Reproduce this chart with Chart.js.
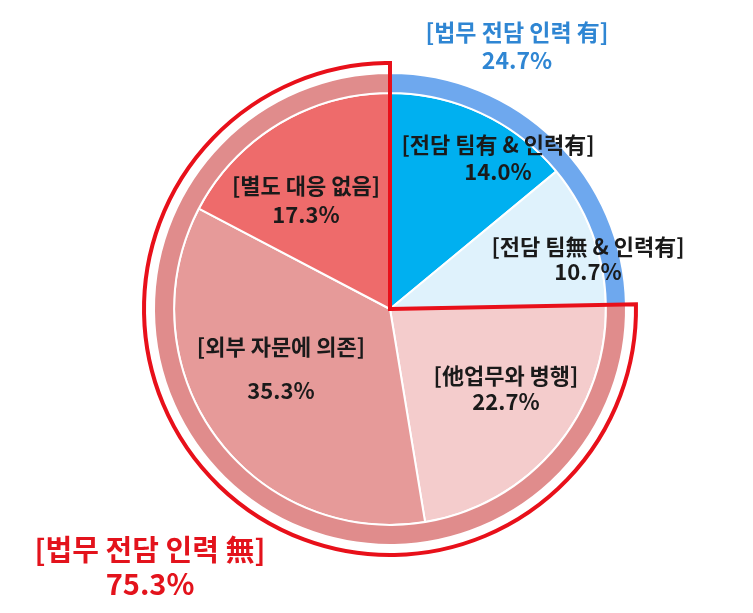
<!DOCTYPE html>
<html>
<head>
<meta charset="utf-8">
<script src="https://cdn.jsdelivr.net/npm/chart.js@4"></script>
<style>
  html, body { margin: 0; padding: 0; background: #fff; }
  #wrap { width: 753px; height: 613px; }
</style>
</head>
<body>
<div id="wrap"><canvas id="chartLegal" width="753" height="613"></canvas></div>
<script>
// 세부 응답 (안쪽 원)
const innerLabels = ['[전담 팀有 & 인력有]', '[전담 팀無 & 인력有]', '[他업무와 병행]', '[외부 자문에 의존]', '[별도 대응 없음]'];
const innerValues = [14.0, 10.7, 22.7, 35.3, 17.3];
const innerColors = ['#00B0F0', '#DFF2FC', '#F4CCCC', '#E69A99', '#EE6B6B'];

// 법무 전담 인력 유무 (바깥 링)
const outerLabels = ['[법무 전담 인력 有]', '[법무 전담 인력 無]'];
const outerValues = [24.7, 75.3];
const outerColors = ['#6EA8EE', '#E08C8C'];

// 라벨 위치 (px)
const innerLabelPos = [[498, 145, 172], [588, 247, 272], [506, 376, 402], [281, 347, 391], [306, 186, 215]];
const outerLabelPos = [[517, 32, 60, '#2F86D3', 23], [150, 550, 584, '#E3131C', 29]];

const fontFamily = '"Noto Sans CJK KR", "Noto Sans", sans-serif';

// 無 부분을 빨간 테두리로 감싸기
const outlinePlugin = {
  id: 'outline',
  afterDatasetsDraw(chart) {
    const arc = chart.getDatasetMeta(0).data[1];
    const ctx = chart.ctx;
    ctx.save();
    ctx.beginPath();
    ctx.moveTo(arc.x, arc.y);
    ctx.arc(arc.x, arc.y, arc.outerRadius + 10, arc.startAngle, arc.endAngle);
    ctx.closePath();
    ctx.lineWidth = 4;
    ctx.lineJoin = 'miter';
    ctx.strokeStyle = '#E8101A';
    ctx.stroke();
    ctx.restore();
  }
};

const labelPlugin = {
  id: 'labels',
  afterDraw(chart) {
    const ctx = chart.ctx;
    ctx.save();
    ctx.textAlign = 'center';
    ctx.textBaseline = 'middle';
    innerLabels.forEach((lbl, i) => {
      const p = innerLabelPos[i];
      ctx.fillStyle = '#1A1A1A';
      ctx.font = 'bold 22px ' + fontFamily;
      ctx.fillText(lbl, p[0], p[1]);
      ctx.fillText(innerValues[i].toFixed(1) + '%', p[0], p[2]);
    });
    outerLabels.forEach((lbl, i) => {
      const p = outerLabelPos[i];
      ctx.fillStyle = p[3];
      ctx.font = 'bold ' + p[4] + 'px ' + fontFamily;
      ctx.fillText(lbl, p[0], p[1]);
      ctx.fillText(outerValues[i].toFixed(1) + '%', p[0], p[2]);
    });
    ctx.restore();
  }
};

new Chart(document.getElementById('chartLegal'), {
  type: 'doughnut',
  data: {
    labels: innerLabels,
    datasets: [
      {
        label: '법무 전담 인력',
        data: outerValues,
        backgroundColor: outerColors,
        borderColor: '#FFFFFF',
        borderWidth: 2,
        weight: 20
      },
      {
        label: '대응 방식',
        data: innerValues,
        backgroundColor: innerColors,
        borderColor: '#FFFFFF',
        borderWidth: 2,
        weight: 215
      }
    ]
  },
  options: {
    responsive: false,
    animation: false,
    events: [],
    cutout: 0,
    radius: 236,
    hoverOffset: 0,
    layout: { padding: { top: 74, bottom: 69, left: 155, right: 128 } },
    plugins: {
      legend: { display: false },
      tooltip: { enabled: false }
    }
  },
  plugins: [outlinePlugin, labelPlugin]
});
</script>
</body>
</html>
